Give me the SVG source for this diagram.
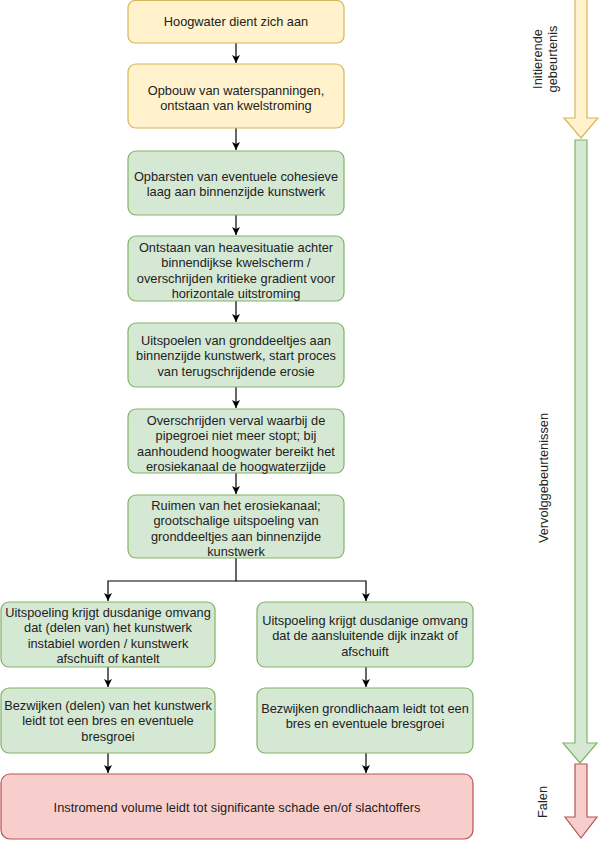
<svg xmlns="http://www.w3.org/2000/svg" width="599" height="850" viewBox="0 0 599 850">
<style>
.y{fill:#fff2cc;stroke:#d6b656;stroke-width:1.2}
.g{fill:#d5e8d4;stroke:#82b366;stroke-width:1.2}
.r{fill:#f8cecc;stroke:#b85450;stroke-width:1.2}
text{font-family:"Liberation Sans",Arial,sans-serif;font-size:12.8px;fill:#222;text-anchor:middle}
.c{fill:none;stroke:#000;stroke-width:1.2}
</style>
<defs>
<marker id="ah" viewBox="0 0 10 10" refX="10" refY="5" markerWidth="8" markerHeight="8" markerUnits="userSpaceOnUse" orient="auto">
<path d="M0,0 L10,5 L0,10 L2.5,5 Z" fill="#000"/>
</marker>
</defs>
<g id="connectors">
<path class="c" d="M236,43 V63" marker-end="url(#ah)"/>
<path class="c" d="M236,128 V150" marker-end="url(#ah)"/>
<path class="c" d="M236,215 V235" marker-end="url(#ah)"/>
<path class="c" d="M236,301 V322" marker-end="url(#ah)"/>
<path class="c" d="M236,387 V408" marker-end="url(#ah)"/>
<path class="c" d="M236,473 V494" marker-end="url(#ah)"/>
<path class="c" d="M236,558 V581 H108 V601" marker-end="url(#ah)"/>
<path class="c" d="M236,581 H366 V601" marker-end="url(#ah)"/>
<path class="c" d="M108,667 V687" marker-end="url(#ah)"/>
<path class="c" d="M366,667 V687" marker-end="url(#ah)"/>
<path class="c" d="M108,753 V773" marker-end="url(#ah)"/>
<path class="c" d="M366,753 V773" marker-end="url(#ah)"/>
</g>
<g id="n1"><rect class="y" x="128" y="0.5" width="216" height="42.5" rx="7"/><text x="236" y="26">Hoogwater dient zich aan</text></g>
<g id="n2"><rect class="y" x="128" y="64" width="216" height="64" rx="8"/><text x="236" y="94.5">Opbouw van waterspanningen,</text><text x="236" y="110">ontstaan van kwelstroming</text></g>
<g id="n3"><rect class="g" x="128" y="151" width="216" height="64" rx="8"/><text x="236" y="180.5">Opbarsten van eventuele cohesieve</text><text x="236" y="196">laag aan binnenzijde kunstwerk</text></g>
<g id="n4"><rect class="g" x="128" y="236" width="216" height="65" rx="8"/><text x="236" y="251.5">Ontstaan van heavesituatie achter</text><text x="236" y="267">binnendijkse kwelscherm /</text><text x="236" y="282.5">overschrijden kritieke gradient voor</text><text x="236" y="298">horizontale uitstroming</text></g>
<g id="n5"><rect class="g" x="128" y="323" width="216" height="64" rx="8"/><text x="236" y="344.5">Uitspoelen van gronddeeltjes aan</text><text x="236" y="360">binnenzijde kunstwerk, start proces</text><text x="236" y="375.5">van terugschrijdende erosie</text></g>
<g id="n6"><rect class="g" x="128" y="409" width="216" height="64" rx="8"/><text x="236" y="424.5">Overschrijden verval waarbij de</text><text x="236" y="440">pipegroei niet meer stopt; bij</text><text x="236" y="455.5">aanhoudend hoogwater bereikt het</text><text x="236" y="471">erosiekanaal de hoogwaterzijde</text></g>
<g id="n7"><rect class="g" x="128" y="495" width="216" height="63" rx="8"/><text x="236" y="509.5">Ruimen van het erosiekanaal;</text><text x="236" y="525">grootschalige uitspoeling van</text><text x="236" y="540.5">gronddeeltjes aan binnenzijde</text><text x="236" y="556">kunstwerk</text></g>
<g id="n8"><rect class="g" x="1" y="602" width="214" height="65" rx="8"/><text x="108" y="616.5">Uitspoeling krijgt dusdanige omvang</text><text x="108" y="632">dat (delen van) het kunstwerk</text><text x="108" y="647.5">instabiel worden / kunstwerk</text><text x="108" y="663">afschuift of kantelt</text></g>
<g id="n9"><rect class="g" x="257" y="602" width="216" height="65" rx="8"/><text x="365" y="624.5">Uitspoeling krijgt dusdanige omvang</text><text x="365" y="640">dat de aansluitende dijk inzakt of</text><text x="365" y="655.5">afschuift</text></g>
<g id="n10"><rect class="g" x="1" y="688" width="214" height="65" rx="8"/><text x="108" y="709.5">Bezwijken (delen) van het kunstwerk</text><text x="108" y="725">leidt tot een bres en eventuele</text><text x="108" y="740.5">bresgroei</text></g>
<g id="n11"><rect class="g" x="257" y="688" width="216" height="65" rx="8"/><text x="365" y="712.5">Bezwijken grondlichaam leidt tot een</text><text x="365" y="728">bres en eventuele bresgroei</text></g>
<g id="n12"><rect class="r" x="1" y="774" width="472" height="65" rx="9"/><text x="237" y="811.5">Instromend volume leidt tot significante schade en/of slachtoffers</text></g>
<g id="phase1"><path class="y" d="M575,-1 H587 V118 H598 L581,138 L564,118 H575 Z"/><text transform="translate(541.5,59) rotate(-90)">Initierende</text><text transform="translate(556.5,59) rotate(-90)">gebeurtenis</text></g>
<g id="phase2"><path class="g" d="M575,140 H587 V743 H597 L580,763 L563,743 H575 Z"/><text transform="translate(547.5,478) rotate(-90)">Vervolggebeurtenissen</text></g>
<g id="phase3"><path class="r" d="M575,764 H587 V817 H597 L581,838 L565,817 H575 Z"/><text transform="translate(546.5,802) rotate(-90)">Falen</text></g>
</svg>
